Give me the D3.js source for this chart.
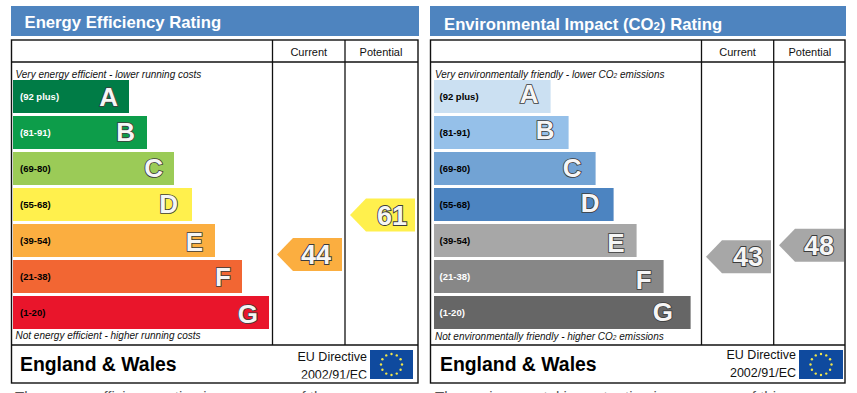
<!DOCTYPE html>
<html><head><meta charset="utf-8">
<script src="https://cdn.jsdelivr.net/npm/d3@7"></script>
<style>html,body{margin:0;padding:0;background:#fff}svg{display:block}text{font-family:"Liberation Sans",Arial,sans-serif}</style>
</head><body><svg id="c" width="857" height="393"></svg>
<script>
const letters = ["A","B","C","D","E","F","G"];
const ranges = ["(92 plus)","(81-91)","(69-80)","(55-68)","(39-54)","(21-38)","(1-20)"];
const barLengths = [116,134,161,179,202,229,256];
const energyColors = ["#007c46","#0d9d4a","#9bcb57","#fff04d","#fbae40","#f26633","#e9152b"];
const energyRangeColors = ["#fff","#fff","#000","#000","#000","#000","#000"];
const co2Colors = ["#cbe0f2","#95c0e9","#72a3d4","#4c84c1","#a7a7a7","#878787","#666666"];
const co2RangeColors = ["#000","#000","#000","#000","#000","#fff","#fff"];
const energyTitle = "Energy Efficiency Rating";
const co2Title = ["Environmental Impact (CO","2",") Rating"];
const energyCurrent = 44, energyPotential = 61, co2Current = 43, co2Potential = 48;
const footerLeft = "The energy efficiency rating is a measure of the";
const footerRight = "The environmental impact rating is a measure of this";

const svg = d3.select("#c");
const defs = svg.append("defs");
const y = d3.scaleBand().domain(letters).range([80,329]).paddingInner(3/36).paddingOuter(0);
const len = d3.scaleLinear().domain([0,256]).range([0,256]);
const rateY = d3.scaleLinear().domain([0,100]).range([356.6,124.5]);

function panel(o){
  const g = svg.append("g").attr("transform",`translate(${o.x},0)`);
  const W = o.w;
  g.append("rect").attr("x",0).attr("y",6).attr("width",W).attr("height",30).attr("fill","#4e84bf");
  const t = g.append("text").attr("x",o.titleX).attr("y",o.titleY).attr("fill","#fff").attr("font-size",16.7).attr("font-weight","bold");
  o.title.forEach((s,i)=>{
    if(o.title.length===3 && i===1) t.append("tspan").attr("font-size",11.5).text(s);
    else t.append("tspan").text(s);
  });
  g.append("rect").attr("x",0.5).attr("y",40).attr("width",W-1.5).attr("height",343).attr("fill","#fff").attr("stroke","#111").attr("stroke-width",1.4);
  const ln = (x1,y1,x2,y2)=>g.append("line").attr("x1",x1).attr("y1",y1).attr("x2",x2).attr("y2",y2).attr("stroke","#111").attr("stroke-width",1.3);
  ln(0.5,62,W-1,62); ln(0.5,345,W-1,345);
  ln(o.c1,40,o.c1,345); ln(o.c2,40,o.c2,345);
  g.append("text").attr("x",(o.c1+o.c2)/2).attr("y",56).attr("text-anchor","middle").attr("font-size",11).attr("fill","#111").text("Current");
  g.append("text").attr("x",(o.c2+W)/2+o.potDx).attr("y",56).attr("text-anchor","middle").attr("font-size",11).attr("fill","#111").text("Potential");
  const it = (x,yy,parts)=>{
    const tt=g.append("text").attr("x",x).attr("y",yy).attr("font-size",10).attr("font-style","italic").attr("fill","#111");
    parts.forEach(p=>{const s=tt.append("tspan").text(p); if(p==="2") s.attr("font-size",6.5);});
  };
  it(o.noteX,78,o.top); it(o.noteX,o.botY,o.bottom);
  const bx=o.barX;
  const bars=g.selectAll(".bar").data(letters).join("g");
  bars.append("rect").attr("x",bx).attr("y",d=>y(d)).attr("width",(d,i)=>len(barLengths[i])+o.extra).attr("height",y.bandwidth()).attr("fill",(d,i)=>o.colors[i]);
  bars.append("text").attr("x",bx+o.rangeDx).attr("y",d=>y(d)+y.bandwidth()/2+3.5).attr("font-size",9.5).attr("font-weight","bold").attr("fill",(d,i)=>o.rangeColors[i]).text((d,i)=>ranges[i]);
  bars.append("text").attr("x",(d,i)=>bx+len(barLengths[i])+o.extra-o.letterDx[i]).attr("y",(d,i)=>y(d)+y.bandwidth()/2+o.letterDy[i]).attr("text-anchor","end")
    .attr("font-size",26).attr("font-family","'Open Sans',sans-serif").attr("font-weight",600).attr("fill","#f6f6f6").attr("stroke","#3c3c3c").attr("stroke-width",1.7).attr("paint-order","stroke").text(d=>d);
  const arrow=(val,right,color,off)=>{
    const cy=rateY(val), h=16.5, l=right-65, n=right-49;
    g.append("path").attr("d",d3.line()([[l,cy],[n,cy-h],[right,cy-h],[right,cy+h],[n,cy+h]])+"Z").attr("fill",color);
    g.append("text").attr("x",right-off).attr("y",cy+9.7).attr("text-anchor","end").attr("font-size",27).attr("font-family","'Open Sans',sans-serif").attr("font-weight",600)
      .attr("fill","#f6f6f6").attr("stroke","#3c3c3c").attr("stroke-width",1.8).attr("paint-order","stroke").text(val);
  };
  arrow(o.cur,o.curRight,o.curColor,o.curOff); arrow(o.pot,o.potRight,o.potColor,o.potOff);
  g.append("text").attr("x",o.ewX).attr("y",371).attr("font-size",19.4).attr("font-weight","bold").attr("fill","#000").text("England & Wales");
  const cid="clip"+o.x;
  defs.append("clipPath").attr("id",cid).append("rect").attr("x",o.euX-90).attr("y",346).attr("width",95).attr("height",32.5);
  g.append("text").attr("x",o.euX).attr("y",o.euY1).attr("text-anchor","end").attr("font-size",12.5).attr("fill","#111").text("EU Directive");
  g.append("text").attr("clip-path",`url(#${cid})`).attr("x",o.euX).attr("y",o.euY2).attr("text-anchor","end").attr("font-size",12.5).attr("fill","#111").text("2002/91/EC");
  const fx=o.flagX, fy=350, fw=o.flagW, fh=29;
  g.append("rect").attr("x",fx).attr("y",fy).attr("width",fw).attr("height",fh).attr("fill","#0f4a9e");
  const ang=d3.scaleLinear().domain([0,12]).range([0,2*Math.PI]);
  g.selectAll(".star").data(d3.range(12)).join("circle").attr("cx",d=>fx+fw/2+10.5*Math.sin(ang(d))).attr("cy",d=>fy+fh/2-10.5*Math.cos(ang(d))).attr("r",1.2).attr("fill","#f2e64a");
  svg.append("text").attr("x",o.x+o.footDx).attr("y",402).attr("font-size",o.footSize).attr("fill","#555").text(o.foot);
}
panel({x:11,w:408,title:[energyTitle],titleX:13.5,titleY:28,c1:261.5,c2:334,potDx:-1,noteX:4.5,top:["Very energy efficient - lower running costs"],botY:339,bottom:["Not energy efficient - higher running costs"],barX:2,extra:0,colors:energyColors,rangeColors:energyRangeColors,rangeDx:7,letterDx:[11,12,11,14,12,11,11],letterDy:[9.5,8.5,8.5,8.5,10.5,9.5,10.5],cur:energyCurrent,pot:energyPotential,curRight:331,potRight:404,curColor:"#fbae40",potColor:"#fff04d",curOff:11,potOff:8,ewX:9,euX:356,euY1:361,euY2:379,flagX:359,flagW:43,foot:footerLeft,footDx:4,footSize:15});
panel({x:430,w:416,title:co2Title,titleX:14,titleY:30,c1:271.5,c2:343.7,potDx:0,noteX:5,top:["Very environmentally friendly - lower CO","2"," emissions"],botY:340,bottom:["Not environmentally friendly - higher CO","2"," emissions"],barX:4,extra:0.6,colors:co2Colors,rangeColors:co2RangeColors,rangeDx:5.5,letterDx:[12,14,14,14,12,12,17.5],letterDy:[6.5,6.5,8.5,7.5,11.5,12.5,8.5],cur:co2Current,pot:co2Potential,curRight:341,potRight:414,curColor:"#a7a7a7",potColor:"#a7a7a7",curOff:8,potOff:10,ewX:10,euX:366,euY1:359,euY2:377,flagX:369,flagW:44,foot:footerRight,footDx:5,footSize:15});
</script></body></html>
